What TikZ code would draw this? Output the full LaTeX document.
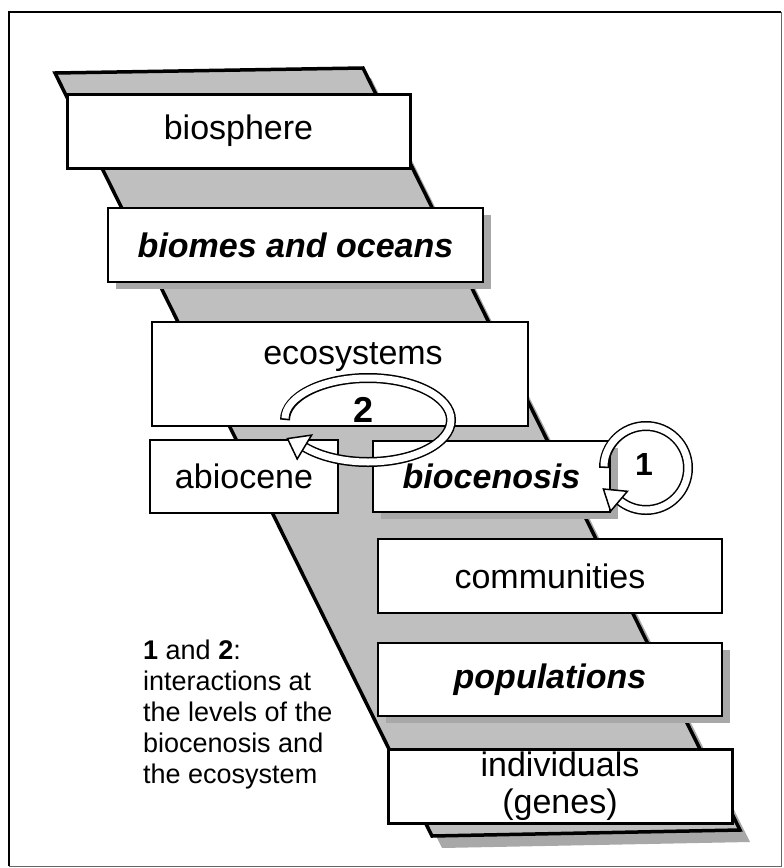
\documentclass[tikz,border=0pt]{standalone}
\usepackage{fontspec}
\setmainfont{Liberation Sans}
\definecolor{bandgray}{HTML}{BFBFBF}
\definecolor{shadegray}{HTML}{A8A8A8}
\begin{document}
\begin{tikzpicture}[x=1pt,y=1pt,yscale=-1,
  lvlbox/.style={draw=black, fill=white, line width=1.6pt, inner sep=0pt,
    font=\fontsize{34}{38}\selectfont},
  thickbox/.style={lvlbox, line width=3pt},
  boxshade/.style={fill=shadegray},
  loopouter/.style={line width=10pt, black},
  loopinner/.style={line width=7pt, white, shorten <=1.6pt},
  loophead/.style={draw=black, fill=white, line width=1.5pt, line join=miter},
  numlabel/.style={inner sep=0pt, font=\bfseries\fontsize{36}{36}\selectfont}]
\useasboundingbox (0,0) rectangle (784,868);
% frame
\draw[line width=0.8pt, black!60] (9,12) rectangle (781,866);
\draw[line width=2.5pt] (9,866) -- (9,12) -- (781,12);
% slanted band
\fill[shadegray] (63,83) -- (371,78) -- (750,842) -- (442,848) -- cycle;
\draw[line width=3.5pt, fill=bandgray] (55,73) -- (363,68) -- (740,830) -- (432,836) -- cycle;
% shadows
\fill[boxshade] (116,215) rectangle (491,289);
\fill[boxshade] (381,448) rectangle (618,519);
\fill[boxshade] (386,650) rectangle (730,723);
% level boxes
\node[thickbox, minimum width=343, minimum height=74] (bios) at (238.5,131) {biosphere};
\node[lvlbox, minimum width=375, minimum height=74] (biomes) at (295.5,245) {\bfseries\itshape biomes and oceans};
\node[lvlbox, minimum width=376, minimum height=104] (eco) at (340,374) {};
\node[inner sep=0pt, font=\fontsize{34}{38}\selectfont] (ecotext) at (353,357) {ecosystems};
\node[lvlbox, minimum width=188, minimum height=73] (abio) at (244,476.5) {abiocene};
\node[lvlbox, minimum width=237, minimum height=71] (bioc) at (491.5,476.5) {\bfseries\itshape biocenosis};
\node[lvlbox, minimum width=344, minimum height=74] (comm) at (550,576) {communities};
\node[lvlbox, minimum width=344, minimum height=73] (pops) at (550,679.5) {\bfseries\itshape populations};
\node[thickbox, minimum width=344, minimum height=74, align=center,
  font=\fontsize{34}{37}\selectfont] (indiv) at (560,786) {individuals\\(genes)};
% loop 2 (ecosystem level)
\coordinate (t2) at (285,420);
\draw[loopouter] (t2) arc[start angle=180, end angle=500, x radius=83, y radius=42];
\draw[loopinner] (t2) arc[start angle=180, end angle=500, x radius=83, y radius=42];
\draw[loophead] (287.5,438.6) -- (311.6,435.1) -- (297.2,459.0) -- cycle;
\node[numlabel] (two) at (364,410) {2};
% loop 1 (biocenosis level)
\coordinate (t1) at (604,468);
\draw[loopouter] (t1) arc[start angle=180, end angle=490, radius=42];
\draw[loopinner] (t1) arc[start angle=180, end angle=490, radius=42];
\draw[loophead] (603.4,489.0) -- (627.4,491.3) -- (610.6,511.2) -- cycle;
\node[numlabel, font=\bfseries\fontsize{32}{32}\selectfont] (one) at (644,464) {1};
% legend
\node[anchor=north west, align=left, inner sep=0pt, font=\fontsize{27}{31}\selectfont]
  (legend) at (143,640) {\textbf{1} and \textbf{2}:\\interactions at\\the levels of the\\biocenosis and\\the ecosystem};
\end{tikzpicture}
\end{document}
